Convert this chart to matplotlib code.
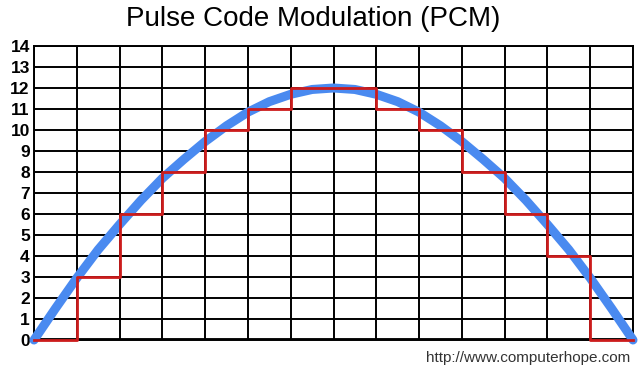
import matplotlib
matplotlib.use("Agg")
import matplotlib.pyplot as plt

# quantised sample levels, one per time slot
slots = list(range(15))
levels = [0, 3, 6, 8, 10, 11, 12, 12, 11, 10, 8, 6, 4, 0]

# analog signal at half-slot steps
wave_x = [0, 0.5, 1, 1.5, 2, 2.5, 3, 3.5, 4, 4.5, 5, 5.5, 6, 6.5, 7,
          7.5, 8, 8.5, 9, 9.5, 10, 10.5, 11, 11.5, 12, 12.5, 13, 13.5, 14]
wave_y = [0, 1.5, 2.95, 4.3, 5.5, 6.65, 7.7, 8.6, 9.45, 10.2, 10.85, 11.35, 11.7, 11.93, 12,
          11.93, 11.7, 11.35, 10.85, 10.2, 9.45, 8.6, 7.7, 6.65, 5.5, 4.3, 2.95, 1.5, 0]

yticks = list(range(15))

plt.rcParams['font.family'] = ['Liberation Sans', 'DejaVu Sans']

fig = plt.figure(figsize=(6.4, 3.72), dpi=100)
ax = fig.add_axes([34/640, 32/372, 599/640, 294/372])

ax.set_xlim(0, 14)
ax.set_ylim(0, 14)
ax.set_xticks(slots)
ax.set_yticks(yticks)
ax.set_xticklabels([])
ax.set_yticklabels([str(v) for v in yticks], fontsize=12.5, fontweight='bold')
ax.tick_params(length=0, pad=3)
ax.grid(True, color='black', lw=1.4)
for s in ax.spines.values():
    s.set_color('black')
    s.set_linewidth(1.4)

ax.axhline(0, color='black', lw=3.5, zorder=3)
ax.plot(wave_x, wave_y, color='#4a8af0', lw=6.5, solid_capstyle='round', zorder=4, clip_on=False)
ax.step(slots, levels + [levels[-1]], where='post', color='#cc1c1c', lw=2, zorder=5, clip_on=False)

fig.text(0.49, 0.948, 'Pulse Code Modulation (PCM)', ha='center', va='center', fontsize=20)
fig.text(0.985, 0.038, 'http://www.computerhope.com', ha='right', va='center',
         fontsize=11, color='#333333')

fig.savefig('out.png', dpi=100)
